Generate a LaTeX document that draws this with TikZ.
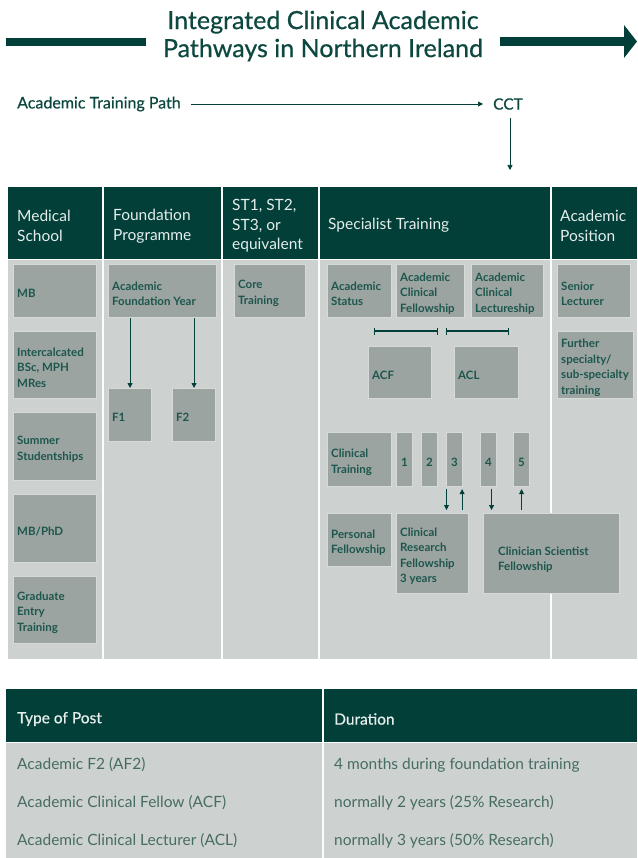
\documentclass[tikz,border=0pt]{standalone}
\usepackage{fontspec}
\setmainfont{Lato}
\newfontfamily\medfont[FakeBold=0.6]{Lato}
\usetikzlibrary{arrows.meta,calc}
\definecolor{dkgreen}{HTML}{023F38}
\definecolor{boxgray}{HTML}{9BA4A1}
\definecolor{bggray}{HTML}{CDD2D0}
\definecolor{boxedge}{HTML}{D6DBD9}
\definecolor{boxtext}{HTML}{1D564C}
\definecolor{titlecol}{HTML}{0D4840}
\definecolor{hdtext}{HTML}{E6EEEC}
\definecolor{tbltext}{HTML}{476C63}
\tikzset{
  bx/.style={draw=boxedge, line width=1.1pt, fill=boxgray, inner sep=0pt, anchor=north west},
  bxt/.style={inner sep=0pt, align=left, anchor=west, text=boxtext, font=\bfseries\fontsize{11.5}{15.5}\selectfont},
  hd/.style={anchor=west, align=left, text=hdtext, inner sep=0pt, font=\fontsize{15.5}{19.5}\selectfont},
  arr/.style={-{Triangle[length=5pt,width=5pt]}, draw=dkgreen, line width=0.9pt},
  thinarr/.style={-{Triangle[length=5pt,width=5pt]}, draw=dkgreen, line width=0.7pt},
  brk/.style={{Bar[width=7pt]}-{Bar[width=7pt]}, draw=dkgreen, line width=1.2pt},
  trow/.style={anchor=west, inner sep=0pt, text=tbltext, font=\fontsize{15.5}{17}\selectfont},
  thead/.style={anchor=west, inner sep=0pt, text=hdtext, font=\medfont\fontsize{15.5}{17}\selectfont},
}
% \bbox{name}{x1}{y1}{x2}{y2}{text}
\newcommand{\bbox}[6]{%
  \pgfmathsetmacro{\bw}{#4-#2}\pgfmathsetmacro{\bh}{#5-#3}%
  \node[bx, minimum width=\bw pt, minimum height=\bh pt] (#1) at (#2,#3) {};
  \node[bxt] (#1-t) at ($(#1.west)+(4,2.5)$) {#6};}
\begin{document}
\begin{tikzpicture}[x=1pt,y=-1pt]
\useasboundingbox (0,0) rectangle (637,858);
% title
\node[text=titlecol, font=\medfont\fontsize{25}{28}\selectfont, align=center, inner sep=0pt] (title) at (323,36)
  {Integrated Clinical Academic\\Pathways in Northern Ireland};
\fill[dkgreen] (6,38) rectangle (146,46.5);
\fill[dkgreen] (500,37) rectangle (624,46);
\fill[dkgreen] (624,25) -- (637,41.5) -- (624,58) -- cycle;
% academic training path
\node[anchor=west, inner sep=0pt, text=titlecol, font=\medfont\fontsize{16}{17}\selectfont] (atp) at (17,104) {Academic Training Path};
\node[anchor=west, inner sep=0pt, text=titlecol, font=\medfont\fontsize{15.5}{17}\selectfont] (cct) at (493,104) {CCT};
\coordinate (cctend) at (510,170);
\draw[thinarr] ([xshift=10pt]atp.east) -- ([xshift=-10pt]cct.west);
\draw[thinarr] ($(cct.south -| cctend)+(0,8)$) -- (cctend);
% main table background
\fill[dkgreen] (8,187) rectangle (637,259.5);
\fill[bggray] (8,259.5) rectangle (637,659);
\draw[white, line width=1.5pt] (8,259.5) -- (637,259.5);
\foreach \xx in {103,222,319,551} \draw[white!95!bggray, line width=2pt] (\xx,187) -- (\xx,659);
% headers
\node[hd] (h1) at (17,226) {Medical\\School};
\node[hd] (h2) at (113,226) {Foundation\\Programme};
\node[hd] (h3) at (232,226) {ST1, ST2,\\ST3, or\\equivalent};
\node[hd] (h4) at (328,225) {Specialist Training};
\node[hd] (h5) at (560,226) {Academic\\Position};
% medical school
\bbox{mb}{13}{264}{96}{317}{MB}
\bbox{inter}{13}{331}{96}{398}{Intercalcated\\BSc, MPH\\MRes}
\bbox{summer}{13}{412}{96}{480}{Summer\\Studentships}
\bbox{mbphd}{13}{494}{96}{562}{MB/PhD}
\bbox{grad}{13}{576}{96}{643}{Graduate\\Entry\\Training}
% foundation
\bbox{afy}{108}{264}{216}{317}{Academic\\Foundation Year}
\bbox{f1}{108}{388}{151}{441}{F1}
\bbox{f2}{172}{388}{215}{441}{F2}
\draw[arr] (f1.north |- afy.south) -- (f1.north);
\draw[arr] (f2.north |- afy.south) -- (f2.north);
% core
\bbox{core}{234}{264}{305}{317}{Core\\Training}
% specialist
\bbox{acstat}{327}{264}{391}{317}{Academic\\Status}
\bbox{acfs}{396}{264}{464}{317}{Academic\\Clinical\\Fellowship}
\bbox{acls}{471}{264}{543}{317}{Academic\\Clinical\\Lectureship}
\bbox{acf}{368}{346}{431}{398}{ACF}
\bbox{acl}{454}{346}{518}{398}{ACL}
\coordinate (b1a) at (374,331); \coordinate (b1b) at (438,331);
\coordinate (b2a) at (446,331); \coordinate (b2b) at (509,331);
\draw[brk] (b1a) -- (b1b);
\draw[brk] (b2a) -- (b2b);
\bbox{clin}{327}{432}{391}{486}{Clinical\\Training}
\foreach \nn/\xx in {1/396,2/421,3/446,4/480,5/513}{
  \node[bx, minimum width=16pt, minimum height=54pt] (n\nn) at (\xx,432) {};
  \node[bxt, anchor=center] (n\nn-t) at ($(n\nn)+(0,2.5)$) {\nn};
}
\bbox{pers}{327}{513}{391}{566}{Personal\\Fellowship}
\bbox{crf}{396}{513}{468}{593}{Clinical\\Research\\Fellowship\\3 years}
\node[bx, minimum width=136pt, minimum height=80pt] (csf) at (483,513) {};
\node[bxt] (csf-t) at ($(csf.west)+(15,6)$) {Clinician Scientist\\Fellowship};
\draw[arr] ($(n3.south west)+(0.5,2)$) -- ($(n3.south west |- crf.north)+(0.5,-3)$);
\draw[arr] ($(n3.south east |- crf.north)+(-1,-3)$) -- ($(n3.south east)+(-1,2)$);
\draw[arr] ($(n4.south)+(3,2)$) -- ($(n4.south |- csf.north)+(3,-3)$);
\draw[arr] ($(n5.south |- csf.north)+(0,-3)$) -- ($(n5.south)+(0,2)$);
% academic position
\bbox{senior}{557}{264}{630}{317}{Senior\\Lecturer}
\bbox{further}{557}{331}{633}{398}{Further\\specialty/\\sub-specialty\\training}
% bottom table
\fill[dkgreen] (6,689) rectangle (637,742);
\fill[bggray] (6,742) rectangle (637,858);
\draw[white, line width=1.5pt] (6,742.5) -- (637,742.5);
\draw[white!95!bggray, line width=2pt] (323,689) -- (323,858);
\node[thead] (tp) at (17,719) {Type of Post};
\node[thead] (du) at (334,719) {Duration};
\node[trow] (r1a) at (17,765) {Academic F2 (AF2)};
\node[trow] (r1b) at (334,765) {4 months during foundation training};
\node[trow] (r2a) at (17,803) {Academic Clinical Fellow (ACF)};
\node[trow] (r2b) at (334,803) {normally 2 years (25\% Research)};
\node[trow] (r3a) at (17,841) {Academic Clinical Lecturer (ACL)};
\node[trow] (r3b) at (334,841) {normally 3 years (50\% Research)};
\end{tikzpicture}
\end{document}
